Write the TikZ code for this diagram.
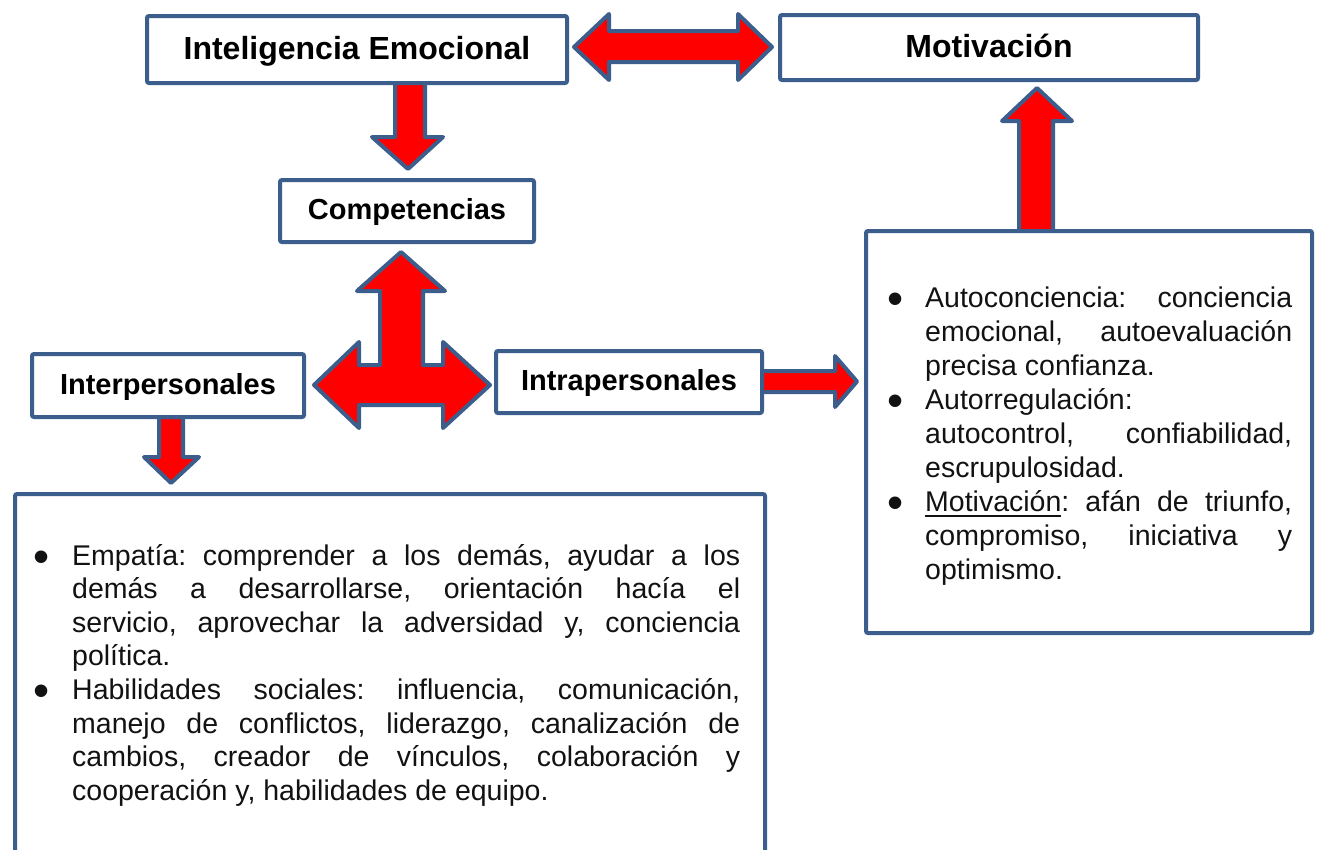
\documentclass[tikz,border=0pt]{standalone}
\usepackage{fontspec}
\setmainfont{Liberation Sans}
\frenchspacing
\definecolor{edge}{HTML}{3B5E8C}
\definecolor{fillred}{HTML}{FF0000}
\newcommand\bul{\raisebox{-7pt}{\fontsize{46}{46}\selectfont\textbullet}}
\newcommand\myul[1]{\setbox0=\hbox{#1}\rlap{\rule[-6pt]{\wd0}{2.5pt}}\box0}
\tikzset{
  box/.style={draw=edge, line width=4pt, fill=white, rounded corners=2pt, inner sep=0pt,
    font=\bfseries\fontsize{29}{34}\selectfont, text height=21pt, text depth=4pt},
  bigtitle/.style={font=\bfseries\fontsize{32}{38}\selectfont, text height=23pt, text depth=4pt},
  blockarrow/.style={draw=edge, line width=4pt, fill=fillred, line join=round},
  textbox/.style={draw=edge, line width=4pt, fill=white, rounded corners=2pt, inner sep=0pt},
  bodytext/.style={anchor=base west, inner sep=0pt, text=black!93},
}
\begin{document}
\begin{tikzpicture}[x=1pt,y=-1pt]
\useasboundingbox (0,0) rectangle (1319,849);
\clip (0,0) rectangle (1319,849);
% block arrows
\draw[blockarrow] (574,47) -- (609,14) -- (609,31) -- (738,31) -- (738,14) -- (772,47)
  -- (738,80) -- (738,62) -- (609,62) -- (609,80) -- cycle;
\draw[blockarrow] (395,82) -- (395,137) -- (372,137) -- (408,169) -- (443,137)
  -- (425,137) -- (425,82) -- cycle;
\draw[blockarrow] (401,252) -- (445,291) -- (423,291) -- (423,365) -- (443,365) -- (443,342)
  -- (490,385) -- (443,428) -- (443,405) -- (359,405) -- (359,428) -- (314,385) -- (359,342)
  -- (359,365) -- (380,365) -- (380,291) -- (357,291) -- cycle;
\draw[blockarrow] (159,417) -- (159,457) -- (144,457) -- (171,483) -- (199,457)
  -- (183,457) -- (183,417) -- cycle;
\draw[blockarrow] (762,371) -- (835,371) -- (835,356) -- (857,381.5) -- (835,407)
  -- (835,392) -- (762,392) -- cycle;
\draw[blockarrow] (1019,231) -- (1019,121) -- (1002,121) -- (1037,88) -- (1072,121)
  -- (1053,121) -- (1053,231) -- cycle;
% title boxes
\node[box, bigtitle, minimum width=420pt, minimum height=67pt] (ie) at (357,49.5) {Inteligencia Emocional};
\node[box, bigtitle, minimum width=418pt, minimum height=65pt] (mot) at (989,47.5) {Motivación};
\node[box, minimum width=254pt, minimum height=62pt] (comp) at (407,211) {Competencias};
\node[box, minimum width=272pt, minimum height=63pt] (inter) at (168,385.5) {Interpersonales};
\node[box, minimum width=266pt, minimum height=62pt] (intra) at (629,382) {Intrapersonales};
% text boxes
\node[textbox, minimum width=750pt, minimum height=390pt, anchor=north west] (lbox) at (13,492) {};
\node[textbox, minimum width=446pt, minimum height=402pt] (rbox) at (1089,432) {};
\node[bodytext] (ltext) at (33,565) {\parbox[t]{707pt}{\fontsize{28.5}{33.6}\selectfont\parindent=0pt
\makebox[39pt][l]{\bul}\makebox[668pt][s]{Empatía: comprender a los demás, ayudar a los}\\
\hspace*{39pt}\makebox[668pt][s]{demás a desarrollarse, orientación hacía el}\\
\hspace*{39pt}\makebox[668pt][s]{servicio, aprovechar la adversidad y, conciencia}\\
\hspace*{39pt}política.\\
\makebox[39pt][l]{\bul}\makebox[668pt][s]{Habilidades sociales: influencia, comunicación,}\\
\hspace*{39pt}\makebox[668pt][s]{manejo de conflictos, liderazgo, canalización de}\\
\hspace*{39pt}\makebox[668pt][s]{cambios, creador de vínculos, colaboración y}\\
\hspace*{39pt}cooperación y, habilidades de equipo.}};
\node[bodytext] (rtext) at (887,307) {\parbox[t]{405pt}{\fontsize{28.5}{34}\selectfont\parindent=0pt
\makebox[38pt][l]{\bul}\makebox[367pt][s]{Autoconciencia: conciencia}\\
\hspace*{38pt}\makebox[367pt][s]{emocional, autoevaluación}\\
\hspace*{38pt}precisa confianza.\\
\makebox[38pt][l]{\bul}Autorregulación:\\
\hspace*{38pt}\makebox[367pt][s]{autocontrol, confiabilidad,}\\
\hspace*{38pt}escrupulosidad.\\
\makebox[38pt][l]{\bul}\makebox[367pt][s]{\myul{Motivación}: afán de triunfo,}\\
\hspace*{38pt}\makebox[367pt][s]{compromiso, iniciativa y}\\
\hspace*{38pt}optimismo.}};
\end{tikzpicture}
\end{document}
